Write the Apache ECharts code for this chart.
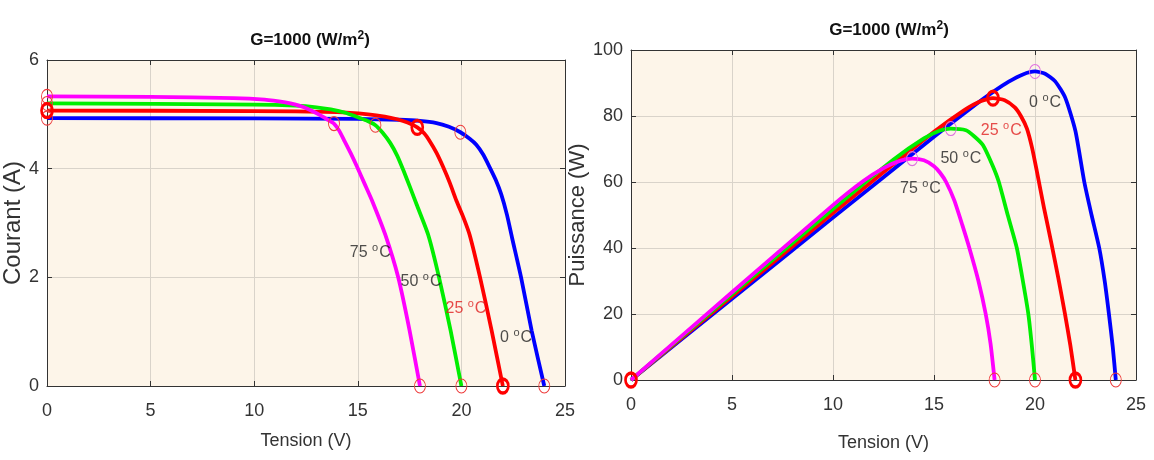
<!DOCTYPE html>
<html style="height: 100%">
<head>
	<meta charset="utf-8">
</head>
<body style="height: 100%; margin: 0; background: #fff">
<div id="container" style="width: 1154px; height: 460px"></div>
<script type="text/javascript" src="https://cdn.jsdelivr.net/npm/echarts@6/dist/echarts.min.js"></script>
<script type="text/javascript">
    // courbes I-V (tension V, courant A)
    var ivBlue = [[0, 4.93], [10, 4.925], [15, 4.915], [17, 4.9], [18, 4.88], [18.8, 4.84], [19.4, 4.77], [19.95, 4.67], [20.4, 4.55], [20.72, 4.44], [21.05, 4.26], [21.36, 4.03], [21.65, 3.8], [21.92, 3.53], [22.2, 3.15], [22.45, 2.72], [22.88, 2.0], [23.39, 1.02], [24, 0]];
    var ivRed = [[0, 5.07], [10, 5.06], [14, 5.04], [15.5, 5.0], [16.3, 4.96], [16.9, 4.91], [17.4, 4.85], [17.87, 4.76], [18.2, 4.65], [18.48, 4.5], [18.8, 4.29], [19.12, 4.03], [19.45, 3.73], [19.76, 3.41], [20.1, 3.1], [20.4, 2.78], [20.9, 2.0], [21.46, 1.02], [22, 0]];
    var ivGreen = [[0, 5.2], [10, 5.18], [12, 5.16], [13, 5.13], [13.7, 5.09], [14.4, 5.03], [14.9, 4.96], [15.4, 4.89], [15.85, 4.8], [16.2, 4.66], [16.57, 4.47], [16.9, 4.24], [17.2, 3.97], [17.52, 3.66], [17.84, 3.34], [18.4, 2.78], [18.92, 2.0], [19.48, 1.02], [20, 0]];
    var ivMagenta = [[0, 5.33], [5, 5.32], [9, 5.3], [10.5, 5.27], [11.5, 5.22], [12, 5.18], [12.4, 5.13], [12.8, 5.06], [13.2, 4.98], [13.55, 4.9], [13.85, 4.83], [14.1, 4.7], [14.33, 4.53], [14.65, 4.29], [14.97, 4.03], [15.33, 3.72], [15.69, 3.41], [16.33, 2.78], [16.95, 2.0], [17.5, 1.02], [18, 0]];

    // courbes P-V (tension V, puissance W)
    var pvBlue = [[0, 0], [5, 24.6], [10, 49.2], [15, 73.7], [17, 83.2], [18, 87.6], [18.7, 90.4], [19.4, 92.6], [20, 93.5], [20.5, 92.8], [21, 90.5], [21.5, 85.5], [22, 75.5], [22.44, 60], [22.8, 50], [23.18, 40], [23.45, 30], [23.66, 20], [23.85, 10], [24, 0]];
    var pvRed = [[0, 0], [5, 25.3], [10, 50.6], [15, 75.2], [16.5, 81.8], [17.3, 84.5], [17.92, 85.4], [18.5, 84.8], [19, 82.6], [19.3, 80], [19.6, 76.2], [19.85, 70.5], [20.1, 63], [20.45, 52], [20.81, 41.5], [21.15, 31], [21.47, 20.5], [21.75, 10.5], [22, 0]];
    var pvGreen = [[0, 0], [5, 26], [10, 51.8], [13, 66.8], [14.5, 73.2], [15.3, 75.6], [15.83, 76.2], [16.58, 75.7], [17, 73.8], [17.42, 71.2], [17.9, 65], [18.21, 60], [18.65, 50], [19.1, 40], [19.4, 30], [19.67, 20], [19.85, 10], [20, 0]];
    var pvMagenta = [[0, 0], [5, 26.6], [10, 53], [11.5, 60.3], [12.5, 64.2], [13.3, 66.4], [13.92, 67.1], [14.5, 66.6], [15, 64.8], [15.3, 62.8], [15.6, 60], [16, 54.5], [16.4, 47], [16.75, 40], [17.2, 30], [17.56, 20], [17.8, 11], [18, 0]];

    // points remarquables : 0, 25, 50, 75 °C
    var temps = ['0', '25', '50', '75'];
    var isc = [4.93, 5.07, 5.2, 5.33];
    var voc = [24, 22, 20, 18];
    var mppIV = [[19.95, 4.67], [17.87, 4.76], [15.85, 4.8], [13.85, 4.83]];
    var mppPV = [[20, 93.5], [17.92, 85.4], [15.83, 76.2], [13.92, 67.1]];

    var colors = ['#0000ff', '#ff0000', '#00ee00', '#ff00ff'];
    var font = '"Liberation Sans", Arial, sans-serif';

    var dom = document.getElementById("container");
    var myChart = echarts.init(dom);

    function mainX(gi, gap) {
        return {
            type: 'value', gridIndex: gi, min: 0, max: 25, interval: 5,
            name: 'Tension (V)', nameLocation: 'middle', nameGap: gap,
            nameTextStyle: {fontFamily: font, fontSize: 18, color: '#333'},
            axisLine: {show: true, lineStyle: {color: '#333', width: 1}},
            axisTick: {show: true, inside: true, length: 5, lineStyle: {color: '#333'}},
            axisLabel: {fontFamily: font, fontSize: 18, color: '#333', margin: 16},
            splitLine: {show: true, lineStyle: {color: '#d9d3ca', width: 1}}
        };
    }
    function mainY(gi, max, step, name, gap, fs) {
        return {
            type: 'value', gridIndex: gi, min: 0, max: max, interval: step,
            name: name, nameLocation: 'middle', nameGap: gap,
            nameTextStyle: {fontFamily: font, fontSize: fs, color: '#333'},
            axisLine: {show: true, lineStyle: {color: '#333', width: 1}},
            axisTick: {show: true, inside: true, length: 5, lineStyle: {color: '#333'}},
            axisLabel: {fontFamily: font, fontSize: 18, color: '#333', margin: 8},
            splitLine: {show: true, lineStyle: {color: '#d9d3ca', width: 1}}
        };
    }
    function boxAxis(gi, max, step, pos) {
        return {
            type: 'value', gridIndex: gi, min: 0, max: max, interval: step, position: pos,
            axisLine: {show: true, onZero: false, lineStyle: {color: '#333', width: 1}},
            axisTick: {show: true, inside: true, length: 5, lineStyle: {color: '#333'}},
            axisLabel: {show: false}, splitLine: {show: false}
        };
    }

    function curve(data, xi, yi, c) {
        return {
            type: 'line', xAxisIndex: xi, yAxisIndex: yi, data: data,
            showSymbol: false, smooth: 0.2,
            lineStyle: {color: c, width: 3.8, join: 'round'}, z: 3
        };
    }
    function circles(data, xi, yi, c, w) {
        return {
            type: 'scatter', xAxisIndex: xi, yAxisIndex: yi, data: data,
            symbol: 'circle', symbolSize: [11, 14],
            itemStyle: {color: 'rgba(0,0,0,0)', borderColor: c, borderWidth: w, opacity: 1}, z: 5
        };
    }
    function tempLabels(data, xi, yi, c) {
        return {
            type: 'scatter', xAxisIndex: xi, yAxisIndex: yi, symbolSize: 0, z: 6,
            data: data,
            label: {
                show: true, position: 'inside',
                formatter: function (p) {
                    return '{t|' + p.data.t + ' }{s|o}{t|C}';
                },
                rich: {
                    t: {fontFamily: font, fontSize: 16, color: c},
                    s: {fontFamily: font, fontSize: 11, color: c, verticalAlign: 'top', padding: [0, 1, 9, 0]}
                }
            }
        };
    }

    // points par temperature, 25 °C (indice 1) en trait epais
    var thin = [0, 2, 3];
    var iscThin = thin.map(function (k) { return [0, isc[k]]; });
    var vocThin = thin.map(function (k) { return [voc[k], 0]; });
    var mppIVThin = thin.map(function (k) { return mppIV[k]; });
    var mppPVThin = thin.map(function (k) { return mppPV[k]; });

    var lbl = function (k, x, y) { return {value: [x, y], t: temps[k]}; };

    var titleText = '{a|G=1000 (W/m}{s|2}{a|)}';
    var titleRich = {
        a: {fontFamily: font, fontSize: 17, fontWeight: 'bold', color: '#111'},
        s: {fontFamily: font, fontSize: 12, fontWeight: 'bold', color: '#111', verticalAlign: 'top', padding: [0, 0, 9, 0]}
    };

    var option = {
        backgroundColor: '#ffffff',
        animation: false,
        title: [{
            text: titleText, left: 305, top: 25, textAlign: 'center',
            textStyle: {rich: titleRich}
        }, {
            text: titleText, left: 884, top: 15, textAlign: 'center',
            textStyle: {rich: titleRich}
        }],
        grid: [
            {left: 46, top: 60, width: 519, height: 326, show: true, backgroundColor: '#fdf5e9', borderWidth: 0},
            {left: 631, top: 50, width: 505, height: 330, show: true, backgroundColor: '#fdf5e9', borderWidth: 0}
        ],
        xAxis: [
            mainX(0, 46), mainX(1, 54),
            boxAxis(0, 25, 5, 'top'), boxAxis(1, 25, 5, 'top')
        ],
        yAxis: [
            mainY(0, 6, 2, 'Courant (A)', 22, 24), mainY(1, 100, 20, 'Puissance (W)', 39, 22),
            boxAxis(0, 6, 2, 'right'), boxAxis(1, 100, 20, 'right')
        ],
        series: [
            curve(ivBlue, 0, 0, colors[0]),
            curve(ivRed, 0, 0, colors[1]),
            curve(ivGreen, 0, 0, colors[2]),
            curve(ivMagenta, 0, 0, colors[3]),
            curve(pvBlue, 1, 1, colors[0]),
            curve(pvRed, 1, 1, colors[1]),
            curve(pvGreen, 1, 1, colors[2]),
            curve(pvMagenta, 1, 1, colors[3]),

            circles(iscThin, 0, 0, '#ee3a3a', 1),
            circles(mppIVThin, 0, 0, '#ee3a3a', 1),
            circles(vocThin, 0, 0, '#ee3a3a', 1),
            circles([[0, isc[1]], mppIV[1], [voc[1], 0]], 0, 0, '#ff0000', 3),

            circles(mppPVThin, 1, 1, '#e070e0', 1),
            circles(vocThin, 1, 1, '#ee3a3a', 1),
            circles([[0, 0], mppPV[1], [voc[1], 0]], 1, 1, '#ff0000', 3),

            tempLabels([lbl(3, 15.6, 2.45), lbl(2, 18.05, 1.92), lbl(0, 22.64, 0.9)], 0, 0, '#222'),
            tempLabels([lbl(1, 20.22, 1.42)], 0, 0, '#e02020'),
            tempLabels([lbl(0, 20.5, 84), lbl(2, 16.33, 67), lbl(3, 14.33, 58)], 1, 1, '#222'),
            tempLabels([lbl(1, 18.33, 75.7)], 1, 1, '#e02020')
        ]
    };

    myChart.setOption(option, true);
</script>
</body>
</html>
